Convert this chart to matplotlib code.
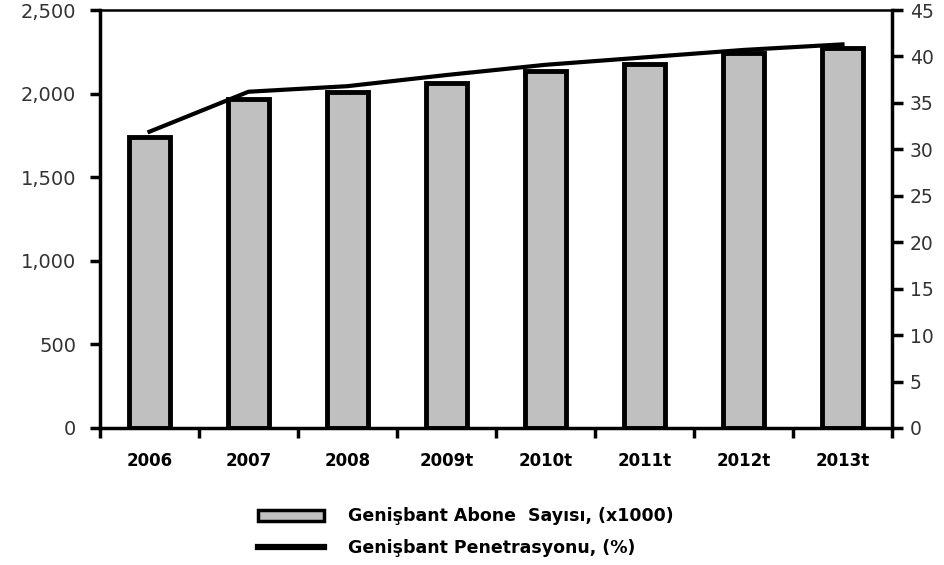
import matplotlib.pyplot as plt
from matplotlib.patches import Patch
from matplotlib.lines import Line2D

plt.rcParams['font.family'] = ['DejaVu Sans']

years = ["2006", "2007", "2008", "2009t", "2010t", "2011t", "2012t", "2013t"]
subscribers = [1740, 1968, 2010, 2063, 2135, 2177, 2243, 2275]   # x1000
penetration = [31.9, 36.2, 36.8, 38.0, 39.1, 39.9, 40.7, 41.3]  # %

fig = plt.figure(figsize=(9.45, 5.65), dpi=100)
ax = fig.add_axes([0.1058, 0.2425, 0.8381, 0.7398])
x = list(range(len(years)))

ax.bar(x, subscribers, width=0.42, color="#c0c0c0", edgecolor="black", linewidth=3.5, zorder=2)
ax.set_xlim(-0.5, len(years) - 0.5)
ax.set_ylim(0, 2500)
ax.set_yticks([0, 500, 1000, 1500, 2000, 2500])
ax.set_yticklabels(["0", "500", "1,000", "1,500", "2,000", "2,500"])
ax.tick_params(axis="y", direction="out", length=7, width=2.5, labelsize=14, pad=10,
               labelcolor="#333333")

ax.set_xticks(x)
ax.set_xticklabels(years, fontweight="bold", fontsize=12)
ax.tick_params(axis="x", length=0, pad=17)
ax.set_xticks([i - 0.5 for i in range(len(years) + 1)], minor=True)
ax.tick_params(axis="x", which="minor", direction="out", length=7, width=2.5)

for side in ["left", "bottom"]:
    ax.spines[side].set_linewidth(2.5)
ax.spines["top"].set_linewidth(1.8)
ax.spines["right"].set_visible(False)

ax2 = ax.twinx()
ax2.plot(x, penetration, color="black", linewidth=3, zorder=3)
ax2.set_ylim(0, 45)
ax2.set_yticks(range(0, 50, 5))
ax2.tick_params(axis="y", direction="out", length=8, width=2.5, labelsize=13.5, pad=5,
                labelcolor="#333333")
ax2.spines["right"].set_linewidth(2.5)
for side in ["left", "top", "bottom"]:
    ax2.spines[side].set_visible(False)

handles = [
    Patch(facecolor="#c0c0c0", edgecolor="black", linewidth=2.5),
    Line2D([0], [0], color="black", linewidth=4.5),
]
labels = ["Genişbant Abone  Sayısı, (x1000)", "Genişbant Penetrasyonu, (%)"]
fig.legend(handles, labels, loc="upper left", bbox_to_anchor=(0.256, 0.13),
           frameon=False, handlelength=3.8, handleheight=0.6,
           handletextpad=1.4, labelspacing=0.8,
           prop={"weight": "bold", "size": 12.5})

fig.savefig("out.png", dpi=100)
